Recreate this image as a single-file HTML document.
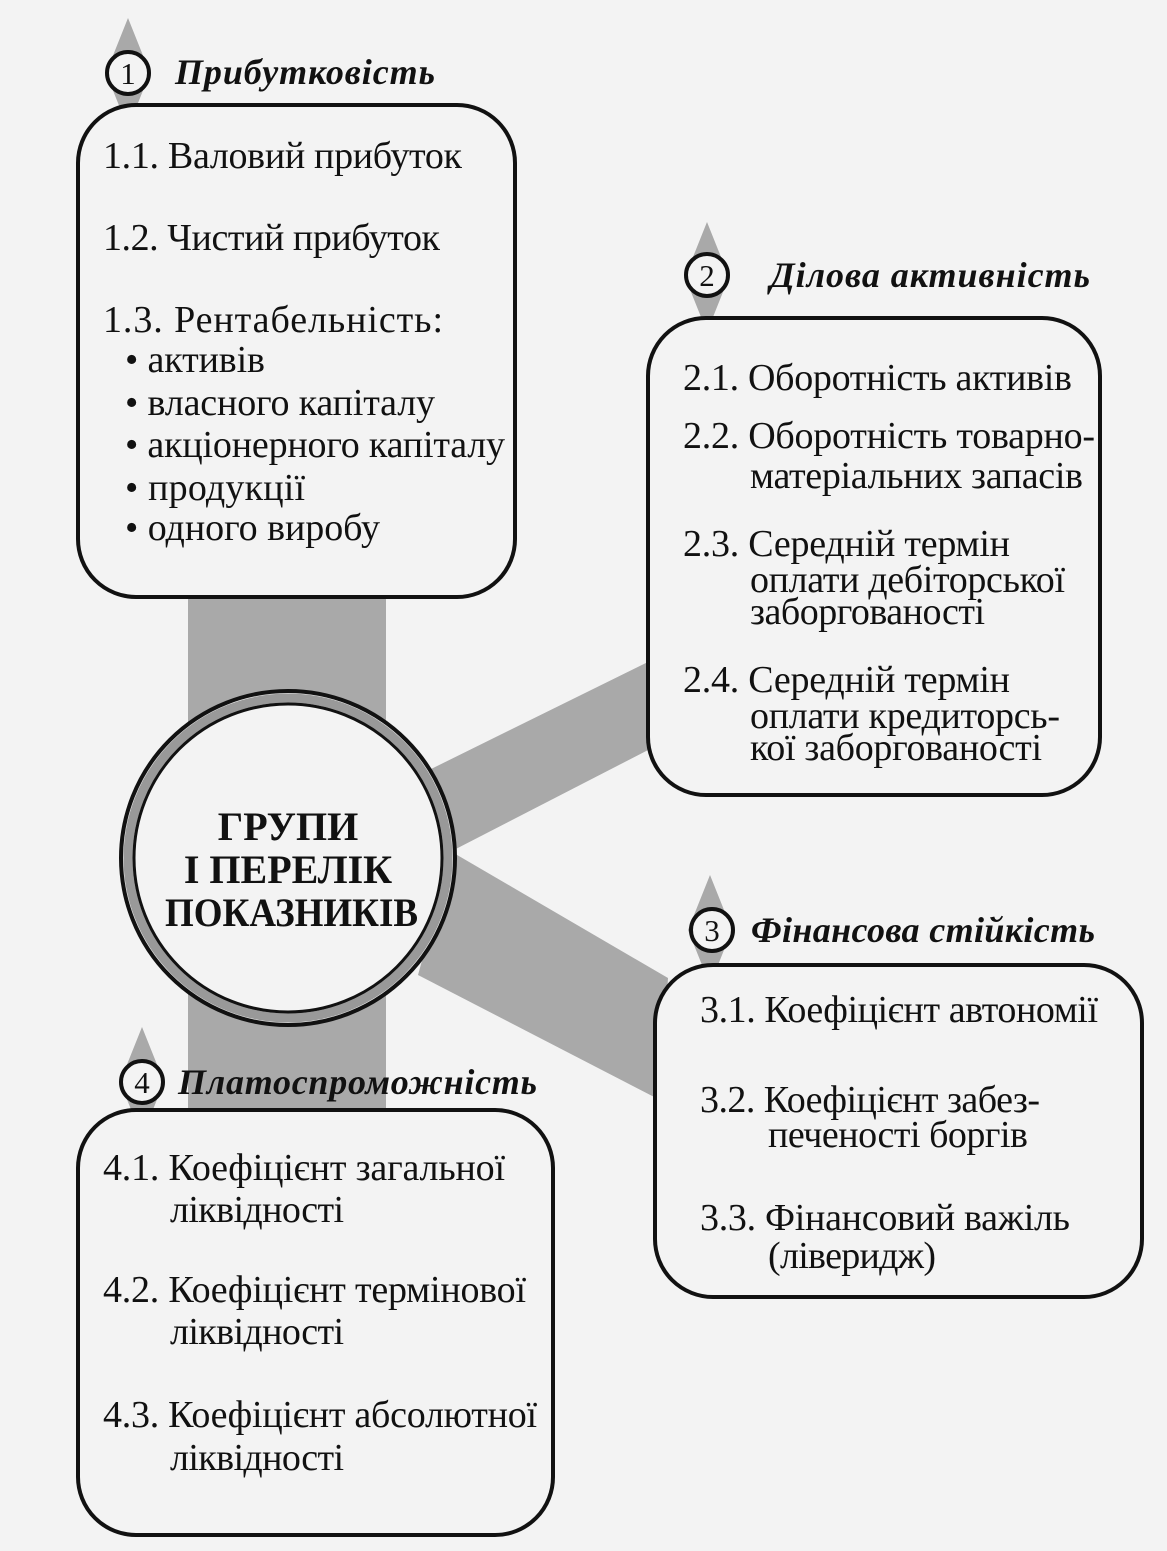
<!DOCTYPE html>
<html><head><meta charset="utf-8"><style>
html,body{margin:0;padding:0;background:#f3f3f3;}
svg{display:block;}
text{font-family:"Liberation Serif",serif;fill:#111;}
.t{font-size:38px;}
.h{font-size:36px;font-weight:bold;font-style:italic;}
.c{font-size:40px;font-weight:bold;}
.n{font-size:31px;}
</style></head><body>
<svg width="1167" height="1551" viewBox="0 0 1167 1551" xmlns="http://www.w3.org/2000/svg">
<rect width="1167" height="1551" fill="#f3f3f3"/>
<g fill="#a9a9a9">
<rect x="188" y="590" width="198" height="525"/>
<polygon points="425,772 652,660 652,748 450,852"/>
<polygon points="452,852 668,978 660,1100 418,975"/>
<polygon points="128,18 150,73 128,128 106,73"/>
<polygon points="707,222 729,277 707,332 685,277"/>
<polygon points="710,875 732,930 710,985 688,930"/>
<polygon points="142,1027 164,1082 142,1137 120,1082"/>
</g>
<g fill="#f3f3f3" stroke="#111" stroke-width="4">
<rect x="78" y="105" width="437" height="492" rx="58"/>
<rect x="648" y="318" width="452" height="477" rx="58"/>
<rect x="655" y="965" width="487" height="332" rx="58"/>
<rect x="78" y="1110" width="475" height="425" rx="58"/>
</g>
<g fill="#f3f3f3" stroke="#111" stroke-width="4">
<circle cx="128" cy="73" r="21"/>
<circle cx="707" cy="275" r="21"/>
<circle cx="712" cy="930" r="21"/>
<circle cx="142" cy="1082" r="21"/>
</g>
<text class="n" x="128" y="84" text-anchor="middle">1</text>
<text class="n" x="707" y="286" text-anchor="middle">2</text>
<text class="n" x="712" y="941" text-anchor="middle">3</text>
<text class="n" x="142" y="1093" text-anchor="middle">4</text>
<circle cx="288" cy="858" r="167" fill="#f3f3f3" stroke="#111" stroke-width="4"/>
<circle cx="288" cy="858" r="160" fill="none" stroke="#999" stroke-width="9"/>
<circle cx="288" cy="858" r="154" fill="#f3f3f3" stroke="#111" stroke-width="3"/>
<text class="c" x="288" y="840" text-anchor="middle">ГРУПИ</text>
<text class="c" x="288" y="883" text-anchor="middle">І ПЕРЕЛІК</text>
<text class="c" x="165" y="926" textLength="253" lengthAdjust="spacingAndGlyphs">ПОКАЗНИКІВ</text>
<text class="h" x="175" y="84" textLength="260">Прибутковість</text>
<text class="h" x="770" y="287" textLength="320">Ділова активність</text>
<text class="h" x="751" y="942" textLength="344">Фінансова стійкість</text>
<text class="h" x="178" y="1094" textLength="359">Платоспроможність</text>
<text class="t" x="103" y="168" textLength="359">1.1. Валовий прибуток</text>
<text class="t" x="103" y="250" textLength="337">1.2. Чистий прибуток</text>
<text class="t" x="103" y="332" textLength="340">1.3. Рентабельність:</text>
<text class="t" x="125" y="372" textLength="140">• активів</text>
<text class="t" x="125" y="415" textLength="310">• власного капіталу</text>
<text class="t" x="125" y="457" textLength="380">• акціонерного капіталу</text>
<text class="t" x="125" y="500" textLength="180">• продукції</text>
<text class="t" x="125" y="540" textLength="255">• одного виробу</text>
<text class="t" x="683" y="390" textLength="389">2.1. Оборотність активів</text>
<text class="t" x="683" y="448" textLength="412">2.2. Оборотність товарно-</text>
<text class="t" x="750" y="488" textLength="333">матеріальних запасів</text>
<text class="t" x="683" y="556" textLength="327">2.3. Середній термін</text>
<text class="t" x="750" y="592" textLength="315">оплати дебіторської</text>
<text class="t" x="750" y="624" textLength="235">заборгованості</text>
<text class="t" x="683" y="692" textLength="327">2.4. Середній термін</text>
<text class="t" x="750" y="728" textLength="310">оплати кредиторсь-</text>
<text class="t" x="750" y="760" textLength="292">кої заборгованості</text>
<text class="t" x="700" y="1022" textLength="398">3.1. Коефіцієнт автономії</text>
<text class="t" x="700" y="1112" textLength="340">3.2. Коефіцієнт забез-</text>
<text class="t" x="768" y="1147" textLength="260">печеності боргів</text>
<text class="t" x="700" y="1230" textLength="370">3.3. Фінансовий важіль</text>
<text class="t" x="768" y="1268" textLength="168">(ліверидж)</text>
<text class="t" x="103" y="1180" textLength="402">4.1. Коефіцієнт загальної</text>
<text class="t" x="170" y="1222" textLength="174">ліквідності</text>
<text class="t" x="103" y="1302" textLength="423">4.2. Коефіцієнт термінової</text>
<text class="t" x="170" y="1344" textLength="174">ліквідності</text>
<text class="t" x="103" y="1427" textLength="434">4.3. Коефіцієнт абсолютної</text>
<text class="t" x="170" y="1470" textLength="174">ліквідності</text>
</svg>
</body></html>
